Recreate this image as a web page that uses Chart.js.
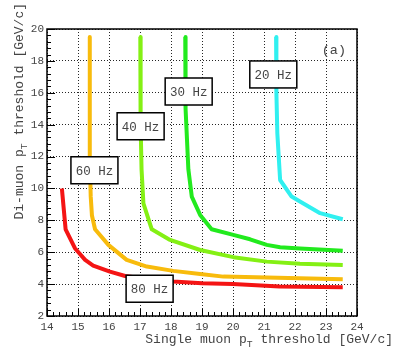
<!DOCTYPE html>
<html lang="en">
<head>
  <meta charset="UTF-8">
  <title>Di-muon vs single muon pT threshold</title>
  <style>
    body { margin: 0; padding: 0; background: #fff; }
    .wrap { width: 399px; height: 353px; position: relative; }
  </style>
  <script src="https://cdn.jsdelivr.net/npm/chart.js"></script>
</head>
<body>
<div class="wrap"><canvas id="c"></canvas></div>
<script>
  // rate curves
  const x80 = [14.48, 14.60, 14.90, 15.23, 15.49, 16.03, 16.52, 17.30, 18.07, 19.00, 20.00, 21.50, 23.54];
  const y80 = [10.0, 7.44, 6.25, 5.52, 5.16, 4.78, 4.51, 4.30, 4.16, 4.06, 4.00, 3.85, 3.80];

  const x60 = [15.38, 15.38, 15.41, 15.45, 15.55, 15.98, 16.57, 17.22, 18.07, 18.94, 19.69, 21.09, 23.54];
  const y60 = [19.5, 12.0, 9.5, 8.3, 7.44, 6.46, 5.52, 5.10, 4.83, 4.64, 4.47, 4.41, 4.31];

  const x40 = [17.01, 17.02, 17.05, 17.11, 17.38, 17.97, 18.94, 20.01, 21.09, 22.16, 23.54];
  const y40 = [19.5, 14.0, 11.2, 9.07, 7.44, 6.77, 6.14, 5.69, 5.41, 5.27, 5.20];

  const x30 = [18.46, 18.47, 18.56, 18.67, 18.94, 19.31, 20.01, 20.55, 21.09, 21.52, 22.16, 23.54];
  const y30 = [19.5, 15.0, 11.2, 9.49, 8.34, 7.44, 7.09, 6.81, 6.46, 6.31, 6.23, 6.10];

  const x20 = [21.39, 21.40, 21.43, 21.52, 21.89, 22.16, 22.81, 23.54];
  const y20 = [19.5, 16.0, 13.46, 10.53, 9.49, 9.18, 8.45, 8.07];

  const rateNames = ['80 Hz', '60 Hz', '40 Hz', '30 Hz', '20 Hz'];
  const rateColors = ['#f41414', '#f8bb0c', '#84f014', '#22ea1e', '#30f0f0'];
  // where the rate boxes sit (data coords of box centre)
  const labelX = [17.31, 15.53, 17.02, 18.57, 21.30];
  const labelY = [3.71, 11.14, 13.90, 16.08, 17.15];

  const xTicks = [14, 15, 16, 17, 18, 19, 20, 21, 22, 23, 24];
  const yTicks = [2, 4, 6, 8, 10, 12, 14, 16, 18, 20];

  const MONO = '"Liberation Mono", "DejaVu Sans Mono", monospace';

  function pts(xs, ys) {
    return xs.map((x, i) => ({x: x, y: ys[i]}));
  }

  const series = [[x80, y80], [x60, y60], [x40, y40], [x30, y30], [x20, y20]];
  const datasets = series.map((s, i) => ({
    label: rateNames[i],
    data: pts(s[0], s[1]),
    borderColor: rateColors[i],
    backgroundColor: rateColors[i],
    borderWidth: 4,
    pointRadius: 0,
    showLine: true,
    tension: 0,
    borderJoinStyle: 'round'
  }));

  // draw text with a subscript T
  function subText(ctx, parts, x, y, size) {
    let cx = x;
    parts.forEach(p => {
      if (p.sub) {
        ctx.font = (size * 0.75) + 'px ' + MONO;
        ctx.fillText(p.t, cx, y + size * 0.35);
      } else {
        ctx.font = size + 'px ' + MONO;
        ctx.fillText(p.t, cx, y);
      }
      cx += ctx.measureText(p.t).width;
    });
    return cx - x;
  }
  function subWidth(ctx, parts, size) {
    let w = 0;
    parts.forEach(p => {
      ctx.font = (p.sub ? size * 0.75 : size) + 'px ' + MONO;
      w += ctx.measureText(p.t).width;
    });
    return w;
  }

  const decor = {
    id: 'decor',
    afterDatasetsDraw(chart) {
      const ctx = chart.ctx;
      const xs = chart.scales.x, ys = chart.scales.y;
      const a = chart.chartArea;
      ctx.save();

      // rate boxes
      rateNames.forEach((n, i) => {
        const cx = xs.getPixelForValue(labelX[i]);
        const cy = ys.getPixelForValue(labelY[i]);
        ctx.fillStyle = '#fff';
        ctx.fillRect(cx - 23.5, cy - 13.5, 47, 27);
        ctx.strokeStyle = '#000';
        ctx.lineWidth = 1.5;
        ctx.strokeRect(cx - 23.5, cy - 13.5, 47, 27);
        ctx.fillStyle = '#444';
        ctx.font = '12.5px ' + MONO;
        ctx.textAlign = 'center';
        ctx.textBaseline = 'middle';
        ctx.fillText(n, cx, cy + 1);
      });

      // frame
      ctx.strokeStyle = '#000';
      ctx.lineWidth = 1.5;
      ctx.strokeRect(a.left, a.top, a.right - a.left, a.bottom - a.top);

      // inward ticks, 5 subdivisions
      ctx.lineWidth = 1;
      for (let v = 14; v <= 24.001; v += 0.2) {
        const px = Math.round(xs.getPixelForValue(v)) + 0.5;
        const major = Math.abs(v - Math.round(v)) < 0.01;
        ctx.beginPath();
        ctx.moveTo(px, a.bottom);
        ctx.lineTo(px, a.bottom - (major ? 7 : 4));
        ctx.stroke();
      }
      for (let v = 2; v <= 20.001; v += 0.4) {
        const py = Math.round(ys.getPixelForValue(v)) + 0.5;
        const major = Math.abs(v / 2 - Math.round(v / 2)) < 0.01;
        ctx.beginPath();
        ctx.moveTo(a.left, py);
        ctx.lineTo(a.left + (major ? 8 : 4), py);
        ctx.stroke();
      }

      // axis titles
      ctx.fillStyle = '#444';
      ctx.textAlign = 'left';
      ctx.textBaseline = 'middle';
      const xt = [{t: 'Single muon p'}, {t: 'T', sub: true}, {t: ' threshold [GeV/c]'}];
      const xw = subWidth(ctx, xt, 13);
      subText(ctx, xt, 393 - xw, 340, 13);

      const yt = [{t: 'Di-muon p'}, {t: 'T', sub: true}, {t: ' threshold [GeV/c]'}];
      const yw = subWidth(ctx, yt, 13);
      ctx.translate(20, 3 + yw);
      ctx.rotate(-Math.PI / 2);
      subText(ctx, yt, 0, 0, 13);
      ctx.setTransform(1, 0, 0, 1, 0, 0);

      // panel tag
      ctx.fillStyle = '#444';
      ctx.font = '13.5px ' + MONO;
      ctx.textAlign = 'right';
      ctx.fillText('(a)', 346, 50);
      ctx.restore();
    }
  };

  new Chart(document.getElementById('c'), {
    type: 'scatter',
    data: {datasets: datasets},
    options: {
      responsive: true,
      maintainAspectRatio: false,
      animation: false,
      layout: {padding: {left: 0, right: 42, top: 29, bottom: 0}},
      plugins: {legend: {display: false}, tooltip: {enabled: false}},
      scales: {
        x: {
          type: 'linear', min: 14, max: 24, z: 1,
          afterFit: s => { s.height = 37; },
          afterBuildTicks: s => { s.ticks = xTicks.map(v => ({value: v})); },
          grid: {color: 'rgba(0,0,0,0.85)', lineWidth: 1, drawTicks: false},
          border: {display: false, dash: [1, 2]},
          ticks: {color: '#444', padding: 4, maxRotation: 0, font: {family: MONO, size: 11}}
        },
        y: {
          type: 'linear', min: 2, max: 20, z: 1,
          afterFit: s => { s.width = 47; },
          afterBuildTicks: s => { s.ticks = yTicks.map(v => ({value: v})); },
          grid: {color: 'rgba(0,0,0,0.85)', lineWidth: 1, drawTicks: false},
          border: {display: false, dash: [1, 2]},
          ticks: {color: '#444', padding: 3, font: {family: MONO, size: 11}}
        }
      }
    },
    plugins: [decor]
  });
</script>
</body>
</html>
